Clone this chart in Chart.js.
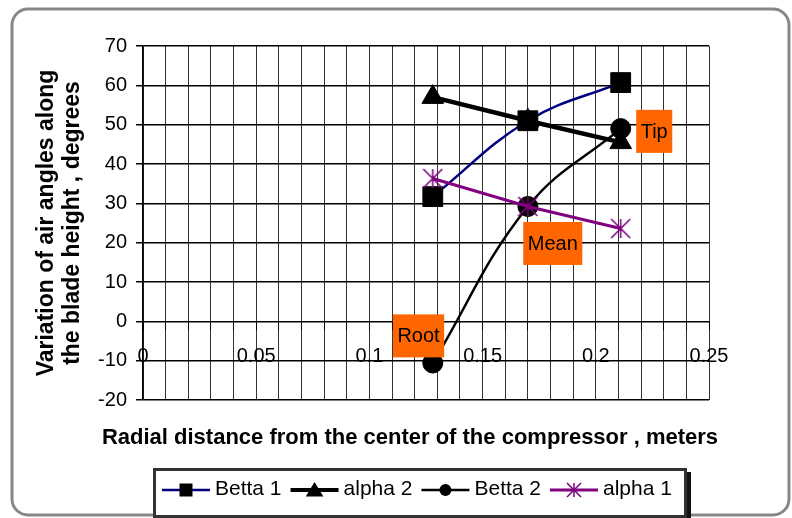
<!DOCTYPE html>
<html>
<head>
<meta charset="utf-8">
<script src="https://cdn.jsdelivr.net/npm/chart.js@4.4.1/dist/chart.umd.min.js"></script>
<style>
  html, body { margin: 0; padding: 0; background: #fff; }
  canvas { display: block; }
</style>
</head>
<body>
<canvas id="myChart" width="792" height="518"></canvas>
<script>
// radial positions (root, mean, tip) in meters
const radius = [0.128, 0.17, 0.211]
// air angles, degrees
const betta1 = [31.7, 51, 60.7]
const alpha2 = [57, 51, 45.5]
const betta2 = [-10.6, 29.2, 49]
const alpha1 = [36.3, 29.2, 23.6]
const seriesNames = ['Betta 1', 'alpha 2', 'Betta 2', 'alpha 1']

const xTickLabels = ['0', '0.05', '0.1', '0.15', '0.2', '0.25']
const yTicks = [-20, -10, 0, 10, 20, 30, 40, 50, 60, 70]

// orange text boxes, placed in data units
const notes = ['Root', 'Mean', 'Tip']
const noteX = [0.1217, 0.181, 0.2258]
const noteY = [-3.7, 19.8, 48.3]

const FONT = '"Liberation Sans", Arial, sans-serif'

const toPts = ys => radius.map((r, i) => ({ x: r, y: ys[i] }))

function starMarker(size, color, lw) {
  const c = document.createElement('canvas')
  c.width = size
  c.height = size
  const g = c.getContext('2d')
  const h = size / 2, r = size / 2 - 1
  g.strokeStyle = color
  g.lineWidth = lw
  g.beginPath()
  g.moveTo(h, h - r); g.lineTo(h, h + r)
  g.moveTo(h - r, h - r); g.lineTo(h + r, h + r)
  g.moveTo(h + r, h - r); g.lineTo(h - r, h + r)
  g.stroke()
  return c
}
const bigStar = starMarker(21, '#800080', 1.6)
const smallStar = starMarker(16, '#800080', 1.5)

function drawMarker(ctx, style, x, y, s) {
  ctx.fillStyle = '#000'
  if (style instanceof HTMLCanvasElement) {
    ctx.drawImage(style, x - style.width / 2, y - style.height / 2)
    return
  }
  ctx.beginPath()
  if (style === 'rect') ctx.rect(x - s / 2, y - s / 2, s, s)
  else if (style === 'triangle') {
    ctx.moveTo(x, y - s * 0.5)
    ctx.lineTo(x + s * 0.55, y + s * 0.4)
    ctx.lineTo(x - s * 0.55, y + s * 0.4)
    ctx.closePath()
  } else if (style === 'circle') ctx.arc(x, y, s / 2, 0, Math.PI * 2)
  ctx.fill()
}

const legendMarks = ['rect', 'triangle', 'circle', smallStar]
const legendSizes = [13, 16, 12, 16]

const framePlugin = {
  id: 'frame',
  beforeDraw(chart) {
    const ctx = chart.ctx
    ctx.save()
    ctx.fillStyle = '#fff'
    ctx.fillRect(0, 0, chart.width, chart.height)
    ctx.strokeStyle = '#878787'
    ctx.lineWidth = 3
    ctx.beginPath()
    ctx.roundRect(12, 9, 777, 506, 16)
    ctx.stroke()
    ctx.restore()
  }
}

const notesPlugin = {
  id: 'notes',
  afterDatasetsDraw(chart) {
    const { ctx, scales: { x, y } } = chart
    ctx.save()
    ctx.font = '20px ' + FONT
    ctx.textAlign = 'center'
    ctx.textBaseline = 'middle'
    notes.forEach((txt, i) => {
      const cx = x.getPixelForValue(noteX[i])
      const cy = y.getPixelForValue(noteY[i])
      const w = ctx.measureText(txt).width + 9
      const h = 43
      ctx.fillStyle = '#ff6600'
      ctx.fillRect(cx - w / 2, cy - h / 2, w, h)
      ctx.fillStyle = '#000'
      ctx.fillText(txt, cx, cy + 1)
    })
    ctx.restore()
  }
}

const legendPlugin = {
  id: 'boxLegend',
  afterDraw(chart) {
    const ctx = chart.ctx
    ctx.save()
    // x axis title
    ctx.font = 'bold 22px ' + FONT
    ctx.fillStyle = '#000'
    ctx.textAlign = 'center'
    ctx.textBaseline = 'middle'
    ctx.fillText('Radial distance from the center of the compressor , meters', 410, 438)

    // legend box with shadow
    ctx.fillStyle = '#111'
    ctx.fillRect(157, 472, 534, 50)
    ctx.fillStyle = '#fff'
    ctx.fillRect(153, 468, 534, 50)
    ctx.strokeStyle = '#333'
    ctx.lineWidth = 3
    ctx.strokeRect(154.5, 469.5, 531, 47)

    ctx.font = '21px ' + FONT
    ctx.textAlign = 'left'
    let px = 162
    const ly = 490
    chart.data.datasets.forEach((ds, i) => {
      ctx.strokeStyle = ds.borderColor
      ctx.lineWidth = Math.min(ds.borderWidth, 4)
      ctx.beginPath()
      ctx.moveTo(px, ly)
      ctx.lineTo(px + 48, ly)
      ctx.stroke()
      drawMarker(ctx, legendMarks[i], px + 24, ly, legendSizes[i])
      ctx.fillStyle = '#000'
      ctx.fillText(ds.label, px + 53, ly - 1)
      px += 53 + ctx.measureText(ds.label).width + 9
    })
    ctx.restore()
  }
}

const ctx = document.getElementById('myChart')

new Chart(ctx, {
  type: 'scatter',
  data: {
    datasets: [{
      label: seriesNames[0],
      data: toPts(betta1),
      borderColor: '#000080',
      borderWidth: 2.5,
      pointStyle: 'rect',
      pointRadius: 14,
      pointBackgroundColor: '#000',
      pointBorderColor: '#000',
      pointBorderWidth: 1,
      showLine: true,
      tension: 0.4,
      order: 4
    }, {
      label: seriesNames[1],
      data: toPts(alpha2),
      borderColor: '#000',
      borderWidth: 4.5,
      pointStyle: 'triangle',
      pointRadius: 12.5,
      pointBackgroundColor: '#000',
      pointBorderColor: '#000',
      pointBorderWidth: 1,
      showLine: true,
      tension: 0,
      order: 3
    }, {
      label: seriesNames[2],
      data: toPts(betta2),
      borderColor: '#000',
      borderWidth: 2.5,
      pointStyle: 'circle',
      pointRadius: 10,
      pointBackgroundColor: '#000',
      pointBorderColor: '#000',
      pointBorderWidth: 1,
      showLine: true,
      tension: 0.4,
      order: 2
    }, {
      label: seriesNames[3],
      data: toPts(alpha1),
      borderColor: '#800080',
      borderWidth: 3,
      pointStyle: bigStar,
      pointRadius: 10,
      showLine: true,
      tension: 0,
      order: 1
    }]
  },
  options: {
    responsive: false,
    animation: false,
    layout: { padding: { left: 10, top: 46, right: 83, bottom: 118 } },
    plugins: {
      legend: { display: false },
      tooltip: { enabled: false }
    },
    scales: {
      x: {
        type: 'linear',
        position: { y: 0 },
        min: 0,
        max: 0.25,
        ticks: {
          stepSize: 0.01,
          autoSkip: false,
          maxTicksLimit: 100,
          maxRotation: 0,
          minRotation: 0,
          padding: 15,
          color: '#000',
          font: { size: 20, family: FONT },
          callback: v => {
            const k = Math.round(v * 100)
            return k % 5 === 0 ? xTickLabels[k / 5] : ''
          }
        },
        grid: { color: '#333', lineWidth: 1, tickLength: 8, tickColor: '#000' },
        border: { color: '#000', width: 1 }
      },
      y: {
        min: yTicks[0],
        max: yTicks[yTicks.length - 1],
        ticks: {
          stepSize: 10,
          padding: 9,
          color: '#000',
          font: { size: 20, family: FONT }
        },
        grid: { color: '#000', lineWidth: 1.5, tickLength: 7, tickColor: '#000' },
        border: { color: '#000', width: 1.5 },
        title: {
          display: true,
          text: ['Variation of air angles along', 'the blade height , degrees'],
          color: '#000',
          font: { size: 23, weight: 'bold', family: FONT, lineHeight: '26px' },
          padding: { top: 24, bottom: 0 }
        },
        afterFit: s => { s.width = 133 }
      }
    }
  },
  plugins: [framePlugin, notesPlugin, legendPlugin]
})
</script>
</body>
</html>
